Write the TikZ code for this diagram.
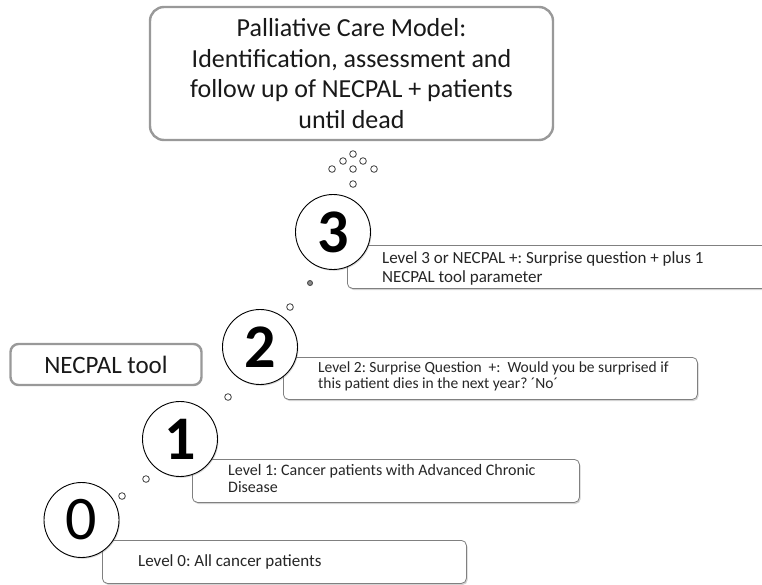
\documentclass[tikz,border=0pt]{standalone}
\usepackage{fontspec}
\setmainfont{Carlito}
\usetikzlibrary{shadows}
\frenchspacing

\begin{document}
\begin{tikzpicture}[x=1pt,y=-1pt,
  titlebox/.style={draw=black!40,line width=2.4pt,rounded corners=14pt,fill=white,align=center,
    font=\fontsize{26}{30.5}\selectfont,text=black!90},
  toolbox/.style={draw=black!40,line width=2.4pt,rounded corners=8pt,fill=white,
    font=\fontsize{25}{30}\selectfont,text=black!90},
  lvlbox/.style={draw=black!50,line width=0.8pt,rounded corners=5pt,fill=white,anchor=north west,
    inner sep=0pt,drop shadow={shadow xshift=1.2pt,shadow yshift=-1.6pt,opacity=0.35}},
  lvltext/.style={anchor=base west,inner sep=0pt,align=left,text=black!85},
  lvlnum/.style={circle,draw=black,line width=0.9pt,fill=white,minimum size=75pt,inner sep=0pt,
    font=\fontsize{62}{62}\selectfont,drop shadow={shadow xshift=1pt,shadow yshift=-1.3pt,opacity=0.3}},
  bubble/.style={circle,draw=black!75,line width=0.8pt,fill=white,minimum size=6.6pt,inner sep=0pt,
    drop shadow={shadow xshift=0.6pt,shadow yshift=-0.6pt,opacity=0.3}}]
\clip (0,0) rectangle (762,584);

% model on top
\node[titlebox,minimum width=403pt,minimum height=133pt] (model) at (351.5,73.5)
  {Palliative Care Model:\\Identification, assessment and\\follow up of NECPAL + patients\\until dead};
\node[toolbox,minimum width=191pt,minimum height=41pt] (tool) at (106,364.5) {NECPAL tool};

% level boxes
\node[lvlbox,minimum width=423pt,minimum height=43pt] (box3) at (347,245) {};
\node[lvlbox,minimum width=414pt,minimum height=42pt] (box2) at (283,357) {};
\node[lvlbox,minimum width=387pt,minimum height=43pt] (box1) at (192,459) {};
\node[lvlbox,minimum width=364pt,minimum height=43pt] (box0) at (102,540) {};

% base anchor sits on the last line
\node[lvltext,font=\fontsize{17}{19}\selectfont] (txt3) at (382,282)
  {Level 3 or NECPAL +: Surprise question + plus 1\\NECPAL tool parameter};
\node[lvltext,font=\fontsize{15.5}{15.5}\selectfont] (txt2) at (318,388)
  {Level 2: Surprise Question \ +: \ Would you be surprised if\\this patient dies in the next year? ´No´};
\node[lvltext,font=\fontsize{16}{17}\selectfont] (txt1) at (228,492)
  {Level 1: Cancer patients with Advanced Chronic\\Disease};
\node[lvltext,font=\fontsize{17}{19}\selectfont] (txt0) at (138,566) {Level 0: All cancer patients};

% numbered circles
\node[lvlnum,font=\fontsize{62}{62}\selectfont\bfseries] (lvl3) at (333,232) {3};
\node[lvlnum,font=\fontsize{62}{62}\selectfont\bfseries] (lvl2) at (260,347) {2};
\node[lvlnum,font=\fontsize{62}{62}\selectfont\bfseries] (lvl1) at (180,439) {1};
\node[lvlnum] (lvl0) at (81.5,520) {0};

% bubbles
\node[bubble] (b1) at (122,496) {};
\node[bubble] (b2) at (146,479) {};
\node[bubble] (b3) at (228,397) {};
\node[bubble] (b4) at (290,307) {};
\node[bubble,fill=black!45,minimum size=5pt] (b5) at (310,283) {};
\node[bubble] (b6) at (353,184) {};
\node[bubble] (b7) at (332,169) {};
\node[bubble] (b8) at (353,169) {};
\node[bubble] (b9) at (374,169) {};
\node[bubble] (b10) at (343,161) {};
\node[bubble] (b11) at (363,161) {};
\node[bubble] (b12) at (353,154) {};
\end{tikzpicture}
\end{document}
